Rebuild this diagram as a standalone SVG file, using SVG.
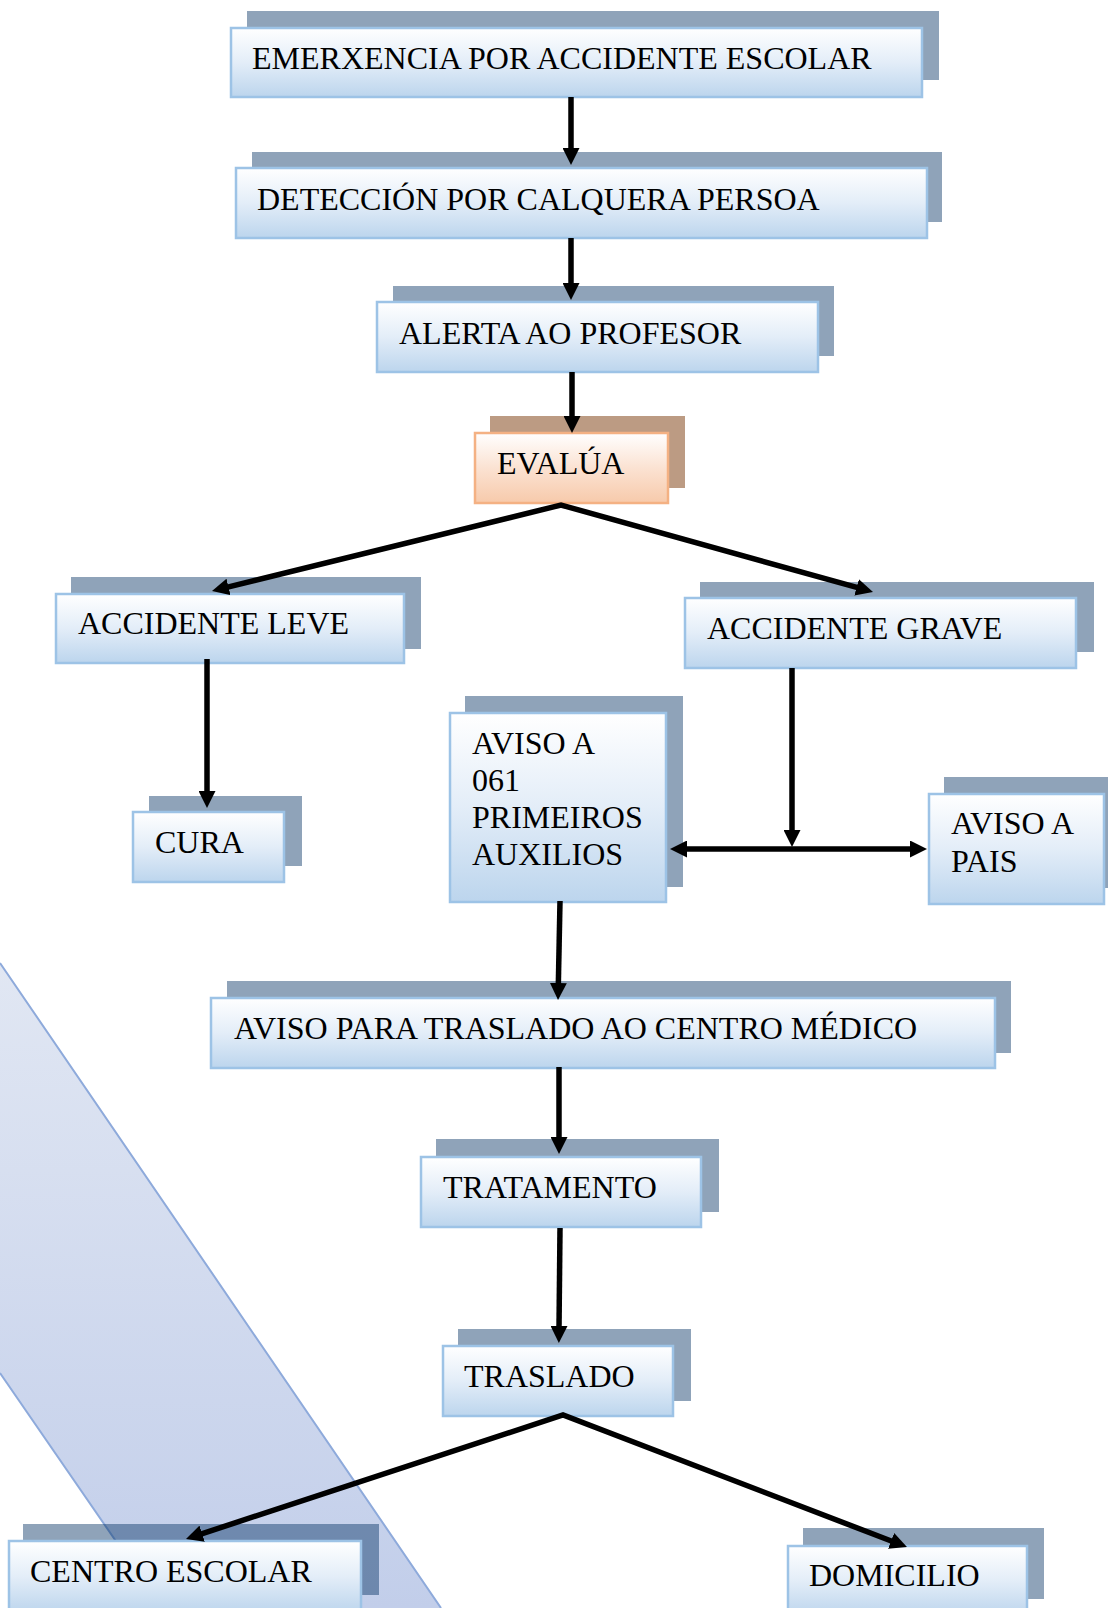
<svg xmlns="http://www.w3.org/2000/svg" width="1108" height="1608" viewBox="0 0 1108 1608">
<defs>
<linearGradient id="gBlue" x1="0" y1="0" x2="0" y2="1">
<stop offset="0" stop-color="#FFFFFF"/>
<stop offset="0.5" stop-color="#E3EDF8"/>
<stop offset="1" stop-color="#BCD5ED"/>
</linearGradient>
<linearGradient id="gOrange" x1="0" y1="0" x2="0" y2="1">
<stop offset="0" stop-color="#FFFFFF"/>
<stop offset="0.5" stop-color="#FBE2D2"/>
<stop offset="1" stop-color="#F7CAAB"/>
</linearGradient>
<linearGradient id="gBand" gradientUnits="userSpaceOnUse" x1="0" y1="963" x2="0" y2="1608">
<stop offset="0" stop-color="#E1E7F3"/>
<stop offset="1" stop-color="#C2CEEA"/>
</linearGradient>
<marker id="arr" viewBox="0 0 17 17" markerWidth="17" markerHeight="17" markerUnits="userSpaceOnUse" refX="3" refY="8.5" orient="auto-start-reverse">
<path d="M0,0 L17,8.5 L0,17 z" fill="#000"/>
</marker>
<style>
.sh{fill:#002E5F;fill-opacity:0.44}
.shO{fill:#BC9B83}
.fr{fill:url(#gBlue);stroke:#9DC3E6;stroke-width:2.5}
.frO{fill:url(#gOrange);stroke:#F4B183;stroke-width:2.5}
.t{font-family:"Liberation Serif","Times New Roman",serif;font-size:32px;fill:#000}
.c{fill:none;stroke:#000;stroke-width:5.5;stroke-linejoin:miter}
.ca{fill:none;stroke:#000;stroke-width:5.5;marker-end:url(#arr)}
.cb{fill:none;stroke:#000;stroke-width:5.5;marker-start:url(#arr);marker-end:url(#arr)}
</style>
</defs>
<rect x="0" y="0" width="1108" height="1608" fill="#FFFFFF"/>
<g id="band">
<path d="M0,963 L441,1608 L162,1608 L0,1373 z" fill="url(#gBand)"/>
<path d="M0,963 L441,1608 M0,1373 L162,1608" fill="none" stroke="#8EAADB" stroke-width="2"/>
</g>
<g id="n1">
<rect class="sh" x="247" y="11" width="692" height="69"/>
<rect class="fr" x="231" y="28" width="691" height="69"/>
<text class="t" x="252" y="69">EMERXENCIA POR ACCIDENTE ESCOLAR</text>
</g>
<g id="n2">
<rect class="sh" x="252" y="152" width="690" height="70"/>
<rect class="fr" x="236" y="168" width="691" height="70"/>
<text class="t" x="257" y="210">DETECCIÓN POR CALQUERA PERSOA</text>
</g>
<g id="n3">
<rect class="sh" x="393" y="286" width="441" height="70"/>
<rect class="fr" x="377" y="302" width="441" height="70"/>
<text class="t" x="399" y="344">ALERTA AO PROFESOR</text>
</g>
<g id="n4">
<rect class="shO" x="490" y="416" width="195" height="72"/>
<rect class="frO" x="475" y="433" width="193" height="70"/>
<text class="t" x="497" y="474">EVALÚA</text>
</g>
<g id="n5">
<rect class="sh" x="71" y="577" width="350" height="72"/>
<rect class="fr" x="56" y="594" width="348" height="69"/>
<text class="t" x="78" y="634">ACCIDENTE LEVE</text>
</g>
<g id="n6">
<rect class="sh" x="700" y="582" width="394" height="70"/>
<rect class="fr" x="685" y="598" width="391" height="70"/>
<text class="t" x="707" y="639">ACCIDENTE GRAVE</text>
</g>
<g id="n7">
<rect class="sh" x="465" y="696" width="218" height="191"/>
<rect class="fr" x="450" y="713" width="216" height="189"/>
<text class="t" x="472" y="754">AVISO A</text>
<text class="t" x="472" y="791">061</text>
<text class="t" x="472" y="828">PRIMEIROS</text>
<text class="t" x="472" y="865">AUXILIOS</text>
</g>
<g id="n8">
<rect class="sh" x="149" y="796" width="153" height="70"/>
<rect class="fr" x="133" y="812" width="151" height="70"/>
<text class="t" x="155" y="853">CURA</text>
</g>
<g id="n9">
<rect class="sh" x="944" y="777" width="170" height="111"/>
<rect class="fr" x="929" y="794" width="175" height="110"/>
<text class="t" x="951" y="834">AVISO A</text>
<text class="t" x="951" y="872">PAIS</text>
</g>
<g id="n10">
<rect class="sh" x="227" y="981" width="784" height="72"/>
<rect class="fr" x="211" y="998" width="784" height="70"/>
<text class="t" x="234" y="1039">AVISO PARA TRASLADO AO CENTRO MÉDICO</text>
</g>
<g id="n11">
<rect class="sh" x="436" y="1139" width="283" height="73"/>
<rect class="fr" x="421" y="1157" width="280" height="70"/>
<text class="t" x="443" y="1198">TRATAMENTO</text>
</g>
<g id="n12">
<rect class="sh" x="458" y="1329" width="233" height="72"/>
<rect class="fr" x="443" y="1346" width="230" height="70"/>
<text class="t" x="464" y="1387">TRASLADO</text>
</g>
<g id="n13">
<rect class="sh" x="23" y="1524" width="356" height="71"/>
<rect class="fr" x="9" y="1541" width="352" height="72"/>
<text class="t" x="30" y="1582">CENTRO ESCOLAR</text>
</g>
<g id="n14">
<rect class="sh" x="803" y="1528" width="241" height="71"/>
<rect class="fr" x="788" y="1546" width="239" height="70"/>
<text class="t" x="809" y="1586">DOMICILIO</text>
</g>
<g id="connectors">
<path class="ca" d="M571,97 L571,151"/>
<path class="ca" d="M571,238 L571,286"/>
<path class="ca" d="M572,372 L572,419"/>
<path class="cb" d="M225.6,587.7 L561,505 L859.5,588.2"/>
<path class="ca" d="M207,659 L207,794"/>
<path class="ca" d="M792,668 L792,833"/>
<path class="cb" d="M684,849 L913,849"/>
<path class="ca" d="M560,901 L558.3,986"/>
<path class="ca" d="M559,1067 L559,1140"/>
<path class="ca" d="M560,1228 L559,1329"/>
<path class="cb" d="M199.3,1534.6 L563,1415 L893.9,1542"/>
</g>
</svg>
